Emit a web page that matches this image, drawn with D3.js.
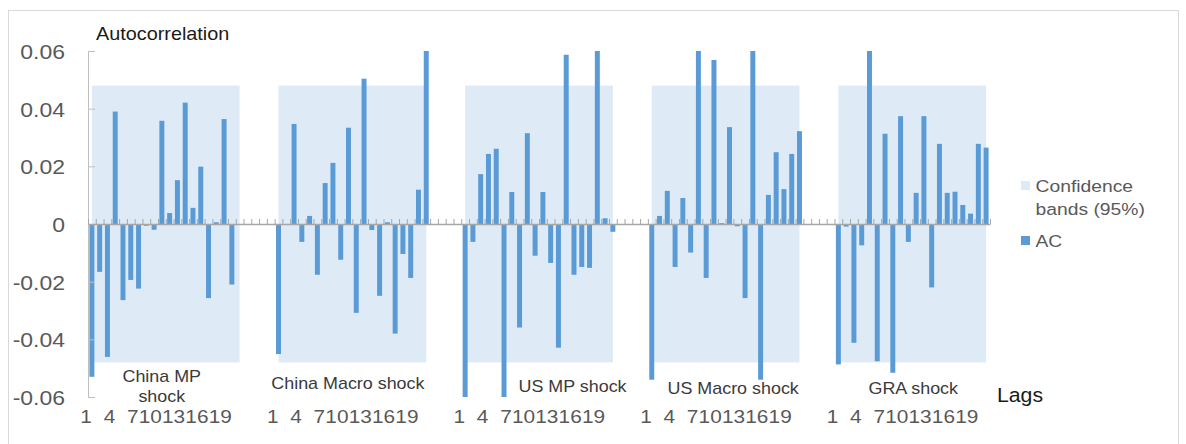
<!DOCTYPE html>
<html>
<head>
<meta charset="utf-8">
<script src="https://cdn.jsdelivr.net/npm/d3@7"></script>
<style>
  body { margin: 0; background: #fff; }
  svg { display: block; font-family: "Liberation Sans", Arial, sans-serif; }
</style>
</head>
<body>
<div id="chart"></div>
<script>
// data
const groups = ['China MP shock', 'China Macro shock', 'US MP shock', 'US Macro shock', 'GRA shock'];
const lags = d3.range(1, 21);
const lagLabels = [1, 4, 7, 10, 13, 16, 19];
const yTicks = [0.06, 0.04, 0.02, 0, -0.02, -0.04, -0.06];
const confBand = 0.048;

const chinaMP = [-0.053, -0.0166, -0.0461, 0.039, -0.0264, -0.0194, -0.0224, -0.0006, -0.002, 0.0358,
  0.0038, 0.0152, 0.0421, 0.0056, 0.0199, -0.0257, 0.0006, 0.0364, -0.021, 0];
const chinaMacro = [-0.0451, 0, 0.0347, -0.0062, 0.0028, -0.0176, 0.0142, 0.0212, -0.0124, 0.0334,
  -0.0308, 0.0504, -0.0021, -0.0249, 0.0006, -0.038, -0.0104, -0.0187, 0.0119, 0.06];
const usMP = [-0.06, -0.0062, 0.0173, 0.0243, 0.0261, -0.06, 0.0111, -0.0359, 0.0315, -0.011,
  0.0111, -0.0135, -0.0429, 0.0587, -0.0176, -0.0149, -0.0152, 0.06, 0.002, -0.0027];
const usMacro = [-0.054, 0.0028, 0.0115, -0.0149, 0.009, -0.0099, 0.06, -0.0187, 0.0569, 0.0003,
  0.0336, -0.0008, -0.0257, 0.06, -0.054, 0.0101, 0.0249, 0.0121, 0.0243, 0.0322];
const gra = [-0.0487, -0.0009, -0.0412, -0.0074, 0.06, -0.0476, 0.0313, -0.0516, 0.0374, -0.0062,
  0.0108, 0.0374, -0.022, 0.0278, 0.0108, 0.0112, 0.0066, 0.0036, 0.0278, 0.0265];
const series = [chinaMP, chinaMacro, usMP, usMacro, gra];

// layout
const W = 1186, H = 444;
const sx = 1.12; // reference text is a bit wide
const slotsPerGroup = 24;
const nSlots = slotsPerGroup * (groups.length - 1) + lags.length;
const groupLabelLines = [['China MP', 'shock'], ['China Macro shock'], ['US MP shock'], ['US Macro shock'], ['GRA shock']];
const groupLabelPos = [{ dx: -4, y: 382 }, { dx: -4.5, y: 389 }, { dx: 33.5, y: 392 }, { dx: 7.5, y: 394 }, { dx: 1, y: 394 }];

const colBar = '#5b9bd5';
const colBand = '#deebf7';
const colAxis = '#a6a6a6';
const colText = '#595959';

const svg = d3.select('#chart').append('svg')
  .attr('width', W)
  .attr('height', H);

svg.append('rect')
  .attr('x', 8.5).attr('y', 10.5)
  .attr('width', 1170).attr('height', 450)
  .attr('fill', 'none')
  .attr('stroke', '#d9d9d9');

const x = d3.scaleBand()
  .domain(d3.range(nSlots))
  .range([88, 990]);
const y = d3.scaleLinear()
  .domain([-0.06, 0.06])
  .range([397, 51]);

const slot = (g, i) => g * slotsPerGroup + i;
const cx = (g, i) => x(slot(g, i)) + x.bandwidth() / 2;

// confidence bands
svg.append('g').selectAll('rect')
  .data(groups)
  .join('rect')
  .attr('x', (d, g) => cx(g, 0))
  .attr('width', (d, g) => cx(g, lags.length - 1) - cx(g, 0))
  .attr('y', y(confBand))
  .attr('height', y(-confBand) - y(confBand))
  .attr('fill', colBand);

// bars
const barData = [];
series.forEach((vals, g) => vals.forEach((v, i) => barData.push({ g, i, v })));
const bw = x.bandwidth() * 0.64;
svg.append('g').selectAll('rect')
  .data(barData)
  .join('rect')
  .attr('x', d => cx(d.g, d.i) - bw / 2)
  .attr('width', bw)
  .attr('y', d => y(Math.max(d.v, 0)))
  .attr('height', d => Math.abs(y(d.v) - y(0)))
  .attr('fill', colBar);

// y axis
const yAxis = svg.append('g')
  .attr('transform', 'translate(88,0)')
  .call(d3.axisLeft(y)
    .tickValues(yTicks)
    .tickSize(-7)
    .tickSizeOuter(0)
    .tickPadding(0)
    .tickFormat(d => d === 0 ? '0' : d.toFixed(2)));
yAxis.select('.domain').attr('stroke', '#bfbfbf');
yAxis.selectAll('.tick line').attr('stroke', '#bfbfbf');
yAxis.selectAll('.tick text')
  .attr('x', 0)
  .attr('dy', '0.36em')
  .attr('transform', `translate(-23,0) scale(${sx},1)`)
  .attr('fill', colText)
  .style('font-size', '20.5px')
  .style('font-family', '"Liberation Sans", Arial, sans-serif');

// x axis along zero
const xEdge = d3.scaleLinear().domain([0, nSlots]).range([88, 990]);
const xAxis = svg.append('g')
  .attr('transform', `translate(0,${y(0)})`)
  .call(d3.axisTop(xEdge)
    .tickValues(d3.range(nSlots + 1))
    .tickSize(5)
    .tickSizeOuter(0)
    .tickFormat(''));
xAxis.select('.domain').attr('stroke', colAxis).attr('stroke-width', 1.5);
xAxis.selectAll('.tick line').attr('stroke', colAxis);

// lag labels (end-anchored at the bar, crowded like the original)
const lagLabelData = [];
groups.forEach((name, g) => lagLabels.forEach(l => lagLabelData.push({ g, l })));
svg.append('g').selectAll('text')
  .data(lagLabelData)
  .join('text')
  .attr('transform', d => `translate(${cx(d.g, d.l - 1)},423) scale(${sx},1)`)
  .attr('text-anchor', 'end')
  .attr('fill', colText)
  .style('font-size', '18.6px')
  .text(d => d.l);

// group names
const gl = svg.append('g').selectAll('text')
  .data(groups)
  .join('text')
  .attr('text-anchor', 'middle')
  .attr('fill', '#3a3a3a')
  .style('font-size', '16px')
  .attr('transform', (d, g) => {
    const mid = (cx(g, 0) + cx(g, lags.length - 1)) / 2 + groupLabelPos[g].dx;
    return `translate(${mid},${groupLabelPos[g].y}) scale(${sx},1)`;
  });
gl.selectAll('tspan')
  .data((d, g) => groupLabelLines[g])
  .join('tspan')
  .attr('x', 0)
  .attr('dy', (d, i) => i === 0 ? 0 : 19.7)
  .text(d => d);

// titles
svg.append('text')
  .attr('transform', `translate(96,39.5) scale(${sx},1)`)
  .attr('fill', '#1a1a1a')
  .style('font-size', '17.7px')
  .text('Autocorrelation');
svg.append('text')
  .attr('transform', `translate(997,401.7) scale(1.09,1)`)
  .attr('fill', '#1a1a1a')
  .style('font-size', '19.5px')
  .text('Lags');

// legend
const legend = svg.append('g');
const legendItems = [
  { color: colBand, lines: ['Confidence', 'bands (95%)'], y: 181 },
  { color: colBar, lines: ['AC'], y: 236 }
];
legendItems.forEach(item => {
  legend.append('rect')
    .attr('x', 1021).attr('y', item.y)
    .attr('width', 9).attr('height', 9)
    .attr('fill', item.color);
  const t = legend.append('text')
    .attr('transform', `translate(1035.5,${item.y + 10.5}) scale(1.17,1)`)
    .attr('fill', colText)
    .style('font-size', '16.5px');
  item.lines.forEach((ln, i) => {
    t.append('tspan').attr('x', 0).attr('dy', i === 0 ? 0 : 23.5).text(ln);
  });
});
</script>
</body>
</html>
